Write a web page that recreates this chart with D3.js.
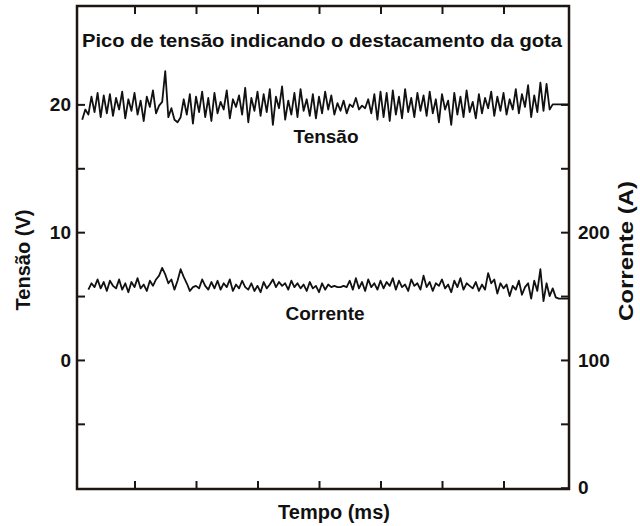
<!DOCTYPE html>
<html>
<head>
<meta charset="utf-8">
<script src="https://cdn.jsdelivr.net/npm/d3@7"></script>
<style>
  body { margin: 0; background: #fff; }
  text { font-family: "Liberation Sans", Arial, sans-serif; font-weight: bold; fill: #111; }
</style>
</head>
<body>
<svg id="chart" width="640" height="526"></svg>
<script>
// sample values (Tensão in V, Corrente in A), constant sample step
var passo = 0.05;
var tensaoInicio = 0.15;
var tensao = [
  18.8, 19.6, 19.2, 20.6, 19.4, 20.9, 19.0, 20.7, 19.3, 20.8,
  19.1, 20.5, 19.6, 21.0, 18.9, 20.4, 19.5, 20.9, 19.2, 20.3,
  18.7, 20.6, 19.8, 21.1, 19.3, 19.9, 20.2, 22.6, 19.0, 19.7,
  18.8, 18.6, 19.0, 20.4, 19.2, 20.8, 18.5, 20.6, 19.4, 21.0,
  19.0, 20.5, 18.7, 20.9, 19.3, 20.2, 19.6, 21.1, 18.9, 20.4,
  19.8, 20.7, 19.2, 21.3, 18.6, 20.5, 19.5, 21.0, 19.1, 20.8,
  19.4, 21.2, 18.4, 20.6, 19.7, 21.4, 18.8, 20.3, 19.2, 20.9,
  19.0, 21.2, 19.5, 20.4, 19.1, 20.8, 18.9, 20.6, 19.3, 21.0,
  19.6, 20.7, 19.2, 20.1, 19.5, 20.3, 19.3, 20.0, 19.8, 20.5,
  19.6, 19.9, 19.7, 20.4, 19.3, 20.8, 18.8, 21.0, 19.0, 20.9,
  18.7, 21.1, 19.2, 20.6, 18.9, 21.2, 19.4, 20.5, 19.0, 20.9,
  19.5, 20.7, 19.1, 21.0, 19.3, 20.4, 18.6, 20.8, 19.6, 20.3,
  18.4, 20.9, 19.2, 20.6, 19.0, 21.1, 19.4, 20.2, 18.9, 20.8,
  19.3, 20.5, 19.7, 21.0, 19.1, 20.6, 19.5, 20.9, 19.2, 20.4,
  19.6, 21.2, 19.3, 20.8, 19.8, 21.5, 19.0, 20.7, 19.4, 21.7,
  19.5, 21.6, 19.6, 20.0,
  20.0, 20.0, 20.0, 20.0, 20.0
];
var correnteInicio = 0.25;
var corrente = [
  155, 160, 157, 163, 156, 161, 154, 162, 158, 156,
  163, 155, 160, 153, 161, 157, 164, 156, 159, 154,
  162, 158, 163, 166, 172, 167, 160, 163, 155, 162,
  171, 165, 160, 154, 157, 158, 156, 163, 158, 155,
  161, 156, 162, 155, 160, 157, 163, 154, 159, 156,
  162, 157, 155, 160, 154, 158, 153, 161, 156, 159,
  163, 157, 161, 158, 160, 155, 162, 157, 160, 156,
  159, 154, 161, 156, 158, 153, 160, 155, 159, 157,
  158, 157, 157, 158, 157, 162, 155, 164, 156, 161,
  154, 163, 157, 160, 155, 162, 156, 161, 158, 164,
  155, 162, 157, 159, 154, 163, 158, 160, 155, 166,
  157, 161, 154, 160, 158, 163, 156, 159, 153, 162,
  157, 164, 155, 160, 158, 156, 161, 154, 159, 155,
  168, 160, 163, 152, 160, 156, 159, 150, 158, 155,
  162, 151, 157, 160, 148, 162, 154, 171, 146, 160,
  150, 156, 149, 148, 148, 148, 148
];

var tempoTicks = [1, 2, 3, 4, 5, 6, 7];
var tensaoTicks = [-5, 0, 5, 10, 15, 20];
var tensaoLabels = [0, 10, 20];
var correnteTicks = [0, 50, 100, 150, 200, 250, 300];
var correnteLabels = [0, 100, 200];

var svg = d3.select("#chart");
var plotL = 77, plotR = 569, plotT = 6, plotB = 489;
var ink = "#1c1512";

var x = d3.scaleLinear().domain([0.065, 8.065]).range([plotL, plotR]);
var yV = d3.scaleLinear().domain([-10.1, 27.7]).range([plotB, plotT]);
var yA = d3.scaleLinear().domain([-1, 377]).range([plotB, plotT]);

function styleAxis(g) {
  g.select(".domain").remove();
  g.selectAll(".tick line").attr("stroke", ink).attr("stroke-width", 2);
  g.selectAll(".tick text")
    .attr("font-family", "Liberation Sans, Arial, sans-serif")
    .attr("font-weight", "bold")
    .attr("font-size", 19)
    .attr("fill", "#111");
}

svg.append("g")
  .attr("transform", "translate(" + plotL + ",0)")
  .call(d3.axisLeft(yV).tickValues(tensaoTicks).tickSize(-8).tickPadding(6)
    .tickFormat(function (d) { return tensaoLabels.indexOf(d) >= 0 ? d : ""; }))
  .call(styleAxis);

svg.append("g")
  .attr("transform", "translate(" + plotR + ",0)")
  .call(d3.axisRight(yA).tickValues(correnteTicks).tickSize(-8).tickPadding(9)
    .tickFormat(function (d) { return correnteLabels.indexOf(d) >= 0 ? d : ""; }))
  .call(styleAxis);

svg.append("g")
  .attr("transform", "translate(0," + plotB + ")")
  .call(d3.axisBottom(x).tickValues(tempoTicks).tickSize(-8).tickFormat(""))
  .call(styleAxis);

svg.append("g")
  .attr("transform", "translate(0," + plotT + ")")
  .call(d3.axisTop(x).tickValues(tempoTicks).tickSize(-8).tickFormat(""))
  .call(styleAxis);

// frame
svg.append("rect")
  .attr("x", plotL).attr("y", plotT)
  .attr("width", plotR - plotL).attr("height", plotB - plotT)
  .attr("fill", "none").attr("stroke", ink).attr("stroke-width", 2.5);

var lineV = d3.line()
  .x(function (d, i) { return x(tensaoInicio + i * passo); })
  .y(function (d) { return yV(d); });
var lineA = d3.line()
  .x(function (d, i) { return x(correnteInicio + i * passo); })
  .y(function (d) { return yA(d); });

svg.append("path").datum(tensao)
  .attr("d", lineV).attr("fill", "none").attr("stroke", "#111")
  .attr("stroke-width", 1.8).attr("stroke-linejoin", "round");
svg.append("path").datum(corrente)
  .attr("d", lineA).attr("fill", "none").attr("stroke", "#111")
  .attr("stroke-width", 1.8).attr("stroke-linejoin", "round");

// texts
svg.append("text").attr("x", 322).attr("y", 47)
  .attr("text-anchor", "middle").attr("font-size", 19)
  .attr("textLength", 480).attr("lengthAdjust", "spacingAndGlyphs")
  .text("Pico de tensão indicando o destacamento da gota");

svg.append("text").attr("x", 326).attr("y", 143)
  .attr("text-anchor", "middle").attr("font-size", 19).text("Tensão");
svg.append("text").attr("x", 325).attr("y", 320)
  .attr("text-anchor", "middle").attr("font-size", 19).text("Corrente");

svg.append("text").attr("x", 334).attr("y", 519)
  .attr("text-anchor", "middle").attr("font-size", 20).text("Tempo (ms)");

svg.append("text").attr("transform", "translate(30,260) rotate(-90)")
  .attr("text-anchor", "middle").attr("font-size", 20).text("Tensão (V)");
svg.append("text").attr("transform", "translate(633,251) rotate(-90)")
  .attr("text-anchor", "middle").attr("font-size", 20)
  .attr("textLength", 140).attr("lengthAdjust", "spacingAndGlyphs")
  .text("Corrente (A)");
</script>
</body>
</html>
